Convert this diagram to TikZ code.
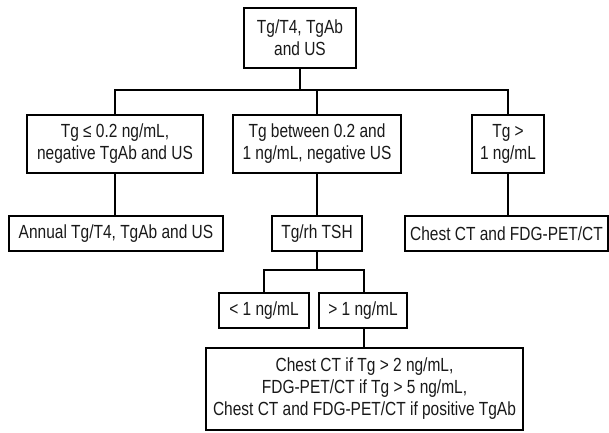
\documentclass[tikz,border=0pt]{standalone}
\usepackage{fontspec}
\setmainfont{Liberation Sans}[FakeStretch=0.815]
\begin{document}
\begin{tikzpicture}[x=1pt,y=-1pt,
  box/.style={draw=black, line width=1.1pt, inner sep=0pt, align=center,
    font=\fontsize{19}{22}\selectfont, text=black!90},
  link/.style={draw=black, line width=1.1pt}]
\useasboundingbox (0,0) rectangle (609,432);
% level 0
\node[box, minimum width=112pt, minimum height=60pt] (top) at (300,38) {Tg/T4, TgAb\\and US};
% level 1
\node[box, minimum width=176pt, minimum height=58pt] (A) at (115,144) {Tg \char"2264\ 0.2 ng/mL,\\negative TgAb and US};
\node[box, minimum width=168pt, minimum height=58pt] (B) at (317,144) {Tg between 0.2 and\\1 ng/mL, negative US};
\node[box, minimum width=72pt, minimum height=58pt] (C) at (508,144) {Tg >\\1 ng/mL};
% level 2
\node[box, minimum width=214pt, minimum height=35pt] (annual) at (116,233.5) {Annual Tg/T4, TgAb and US};
\node[box, minimum width=90pt, minimum height=35pt] (tsh) at (317,233.5) {Tg/rh TSH};
\node[box, minimum width=203pt, minimum height=35pt] (chest) at (506.5,233.5) {Chest CT and FDG-PET/CT};
% level 3
\node[box, minimum width=90pt, minimum height=35pt] (lt) at (264,310.5) {< 1 ng/mL};
\node[box, minimum width=88pt, minimum height=35pt] (gt) at (363,310.5) {> 1 ng/mL};
% level 4
\node[box, minimum width=317pt, minimum height=82pt] (final) at (364.5,389) {Chest CT if Tg > 2 ng/mL,\\FDG-PET/CT if Tg > 5 ng/mL,\\Chest CT and FDG-PET/CT if positive TgAb};
% connectors
\coordinate (j1) at (300,90);
\coordinate (j2) at (317,270);
\draw[link] (top.south) -- (j1);
\draw[link] (j1) -| (A.north);
\draw[link] (j1) -| (B.north);
\draw[link] (j1) -| (C.north);
\draw[link] (A.south) -- (A.south |- annual.north);
\draw[link] (B.south) -- (tsh.north);
\draw[link] (C.south) -- (C.south |- chest.north);
\draw[link] (tsh.south) -- (j2);
\draw[link] (j2) -| (lt.north);
\draw[link] (j2) -| ([xshift=1pt]gt.north);
\draw[link] ([xshift=1pt]gt.south) -- ([xshift=1pt]gt.south |- final.north);
\end{tikzpicture}
\end{document}
